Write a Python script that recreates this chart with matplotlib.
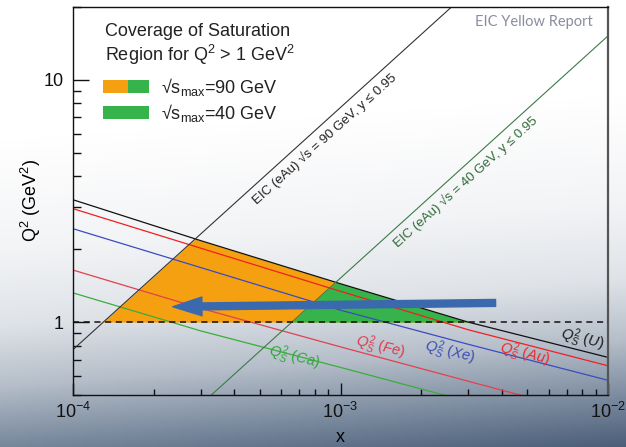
import numpy as np
import matplotlib
matplotlib.use("Agg")
import matplotlib.pyplot as plt
from matplotlib.patches import Rectangle, FancyArrowPatch, ArrowStyle
from matplotlib.ticker import FuncFormatter, NullFormatter

plt.rcParams['font.family'] = ['Liberation Sans', 'DejaVu Sans']
plt.rcParams['mathtext.fontset'] = 'custom'
plt.rcParams['mathtext.rm'] = 'Liberation Sans'
plt.rcParams['mathtext.it'] = 'Liberation Sans:italic'
plt.rcParams['mathtext.bf'] = 'Liberation Sans:bold'

x_nodes = [1e-4, 3e-4, 1e-3, 3e-3, 1e-2]
qs2_U = [3.20, 2.17, 1.44, 1.00, 0.715]
qs2_Au = [2.94, 2.02, 1.34, 0.93, 0.66]
qs2_Xe = [2.43, 1.68, 1.12, 0.81, 0.575]
qs2_Fe = [1.64, 1.14, 0.79, 0.57, 0.40]
qs2_Ca = [1.32, 0.92, 0.65, 0.47, 0.33]

# kinematic limits (y <= 0.95), end points
kin90_x = [1e-4, 2.6e-3]
kin90_q2 = [0.77, 20.0]
kin40_x = [3.29e-4, 1e-2]
kin40_q2 = [0.5, 15.2]

q2_cut = 1.0

# arrow (tail -> tip)
arrow_tail = (3.8e-3, 1.20)
arrow_tip = (2.36e-4, 1.157)

c_orange = '#f5a010'
c_green = '#36b34a'

W, H = 626, 447
fig = plt.figure(figsize=(W / 100, H / 100), dpi=100)

# background gradient (white at top, slate blue at the bottom)
yy, xx = np.mgrid[0:H, 0:W]
s = (yy - 140) / 307.0 + 0.15 * xx / W
stops = [0.0, 0.35, 0.6, 0.8, 1.0, 1.15]
cols = ['#ffffff', '#f3f4f6', '#dfe3e8', '#b5bec9', '#76869b', '#4a5e78']
rgb = np.array([matplotlib.colors.to_rgb(c) for c in cols])
img = np.dstack([np.interp(s, stops, rgb[:, k]) for k in range(3)])
bg = fig.add_axes([0, 0, 1, 1])
bg.imshow(img, aspect='auto', extent=[0, 1, 0, 1])
bg.axis('off')
bg.set_zorder(-1)

ax = fig.add_axes([73 / W, 1 - 395 / H, 535 / W, 388 / H])
ax.set_facecolor('none')
ax.set_xscale('log')
ax.set_yscale('log')
ax.set_xlim(1e-4, 1e-2)
ax.set_ylim(0.5, 20)

# filled coverage regions
lx = np.log10(x_nodes)
xs = np.logspace(-4, -2, 1200)
U = 10 ** np.interp(np.log10(xs), lx, np.log10(qs2_U))
k90 = 10 ** np.interp(np.log10(xs), np.log10(kin90_x), np.log10(kin90_q2))
k40 = 10 ** np.interp(np.log10(xs), np.log10(kin40_x), np.log10(kin40_q2))
top90 = np.minimum(U, k90)
top40 = np.minimum(U, k40)
ax.fill_between(xs, q2_cut, top90, where=top90 > q2_cut, interpolate=True,
                color=c_orange, lw=0, zorder=1)
ax.fill_between(xs, q2_cut, top40, where=top40 > q2_cut, interpolate=True,
                color=c_green, lw=0, zorder=1)

# saturation lines
ax.plot(x_nodes, qs2_U, color='#111111', lw=0.9, zorder=2)
ax.plot(x_nodes, qs2_Au, color='#f02020', lw=0.9, zorder=2)
ax.plot(x_nodes, qs2_Xe, color='#3a4cc0', lw=0.9, zorder=2)
ax.plot(x_nodes, qs2_Fe, color='#e34050', lw=0.9, zorder=2)
ax.plot(x_nodes, qs2_Ca, color='#3aae3a', lw=0.9, zorder=2)

# kinematic limits
ax.plot(kin90_x, kin90_q2, color='#333333', lw=0.8, zorder=2)
ax.plot(kin40_x, kin40_q2, color='#3d7a48', lw=0.8, zorder=2)

ax.axhline(q2_cut, color='#111111', lw=1.1, ls=(0, (4, 3)), zorder=3)

arrow = FancyArrowPatch(posA=arrow_tail, posB=arrow_tip,
                        arrowstyle=ArrowStyle.Simple(head_length=21, head_width=13.5, tail_width=5),
                        mutation_scale=1, color='#3b69ad', shrinkA=0, shrinkB=0, zorder=5)
ax.add_patch(arrow)

# labels along the kinematic lines
def kin_label(xl, xk, qk, text, color):
    ql = 10 ** np.interp(np.log10(xl), np.log10(xk), np.log10(qk))
    ax.annotate(text, xy=(xl, ql), xytext=(8.7, -9.7), textcoords='offset pixels',
                rotation=42, rotation_mode='anchor', ha='center', va='center',
                fontsize=9.5, color=color, zorder=6)

kin_label(8.1e-4, kin90_x, kin90_q2, 'EIC (eAu) √s = 90 GeV, y ≤ 0.95', '#222222')
kin_label(2.73e-3, kin40_x, kin40_q2, 'EIC (eAu) √s = 40 GeV, y ≤ 0.95', '#2e6b38')

# Qs labels (positions in axes fraction)
def px(xp, yp):
    return ((xp - 73) / 535, (395 - yp) / 388)

qs_labels = [
    ('Ca', (294, 357), '#2ea83a'),
    ('Fe', (380, 347), '#e03a4a'),
    ('Xe', (450, 352), '#3b4db5'),
    ('Au', (525, 354), '#f02828'),
    ('U', (582, 339), '#1a1a1a'),
]
for name, pos, col in qs_labels:
    ax.text(*px(*pos), r'$Q^2_S\ (%s)$' % name, transform=ax.transAxes,
            rotation=-14, ha='center', va='center', fontsize=10.5, color=col, zorder=6)

# legend block
ax.text(*px(105, 32), 'Coverage of Saturation', transform=ax.transAxes,
        ha='left', va='center', fontsize=13, color='#222222')
ax.text(*px(105, 55), 'Region for Q$^2$ > 1 GeV$^2$', transform=ax.transAxes,
        ha='left', va='center', fontsize=13, color='#222222')
sw_h = 13 / 388
ax.add_patch(Rectangle(px(103, 93), 25 / 535, sw_h, transform=ax.transAxes,
                       color=c_orange, lw=0, zorder=6))
ax.add_patch(Rectangle(px(128, 93), 21 / 535, sw_h, transform=ax.transAxes,
                       color=c_green, lw=0, zorder=6))
ax.add_patch(Rectangle(px(103, 119), 46 / 535, sw_h, transform=ax.transAxes,
                       color=c_green, lw=0, zorder=6))
ax.text(*px(161, 87), '√s$_{\\rm max}$=90 GeV', transform=ax.transAxes,
        ha='left', va='center', fontsize=13, color='#222222')
ax.text(*px(161, 113), '√s$_{\\rm max}$=40 GeV', transform=ax.transAxes,
        ha='left', va='center', fontsize=13, color='#222222')

fig.text(593 / W, 1 - 22 / H, 'EIC Yellow Report', ha='right', va='center',
         fontsize=10.5, color='#8a8d9e', family='Lato')

# axes styling
ax.yaxis.set_major_formatter(FuncFormatter(lambda v, p: '%g' % v))
ax.yaxis.set_minor_formatter(NullFormatter())
ax.xaxis.set_minor_formatter(NullFormatter())
ax.tick_params(which='both', direction='in', top=False, right=False,
               labelsize=13, colors='#111111')
ax.tick_params(axis='y', which='major', length=11.5, width=1, pad=7)
ax.tick_params(axis='y', which='minor', length=5.8, width=1)
ax.tick_params(axis='x', which='major', length=8.6, width=1, pad=5)
ax.tick_params(axis='x', which='minor', length=4.5, width=1)
for sp in ['left', 'bottom', 'top']:
    ax.spines[sp].set_linewidth(1.0)
    ax.spines[sp].set_color('#111111')
ax.spines['right'].set_linewidth(1.6)
ax.spines['right'].set_color('#555555')

ax.set_xlabel('x', fontsize=13)
ax.set_ylabel('Q$^2$ (GeV$^2$)', fontsize=13)
ax.xaxis.set_label_coords(0.5, (395 - 429) / 388)
ax.yaxis.set_label_coords((43 - 73) / 535, (395 - 200) / 388)

fig.savefig('out.png', dpi=100)
